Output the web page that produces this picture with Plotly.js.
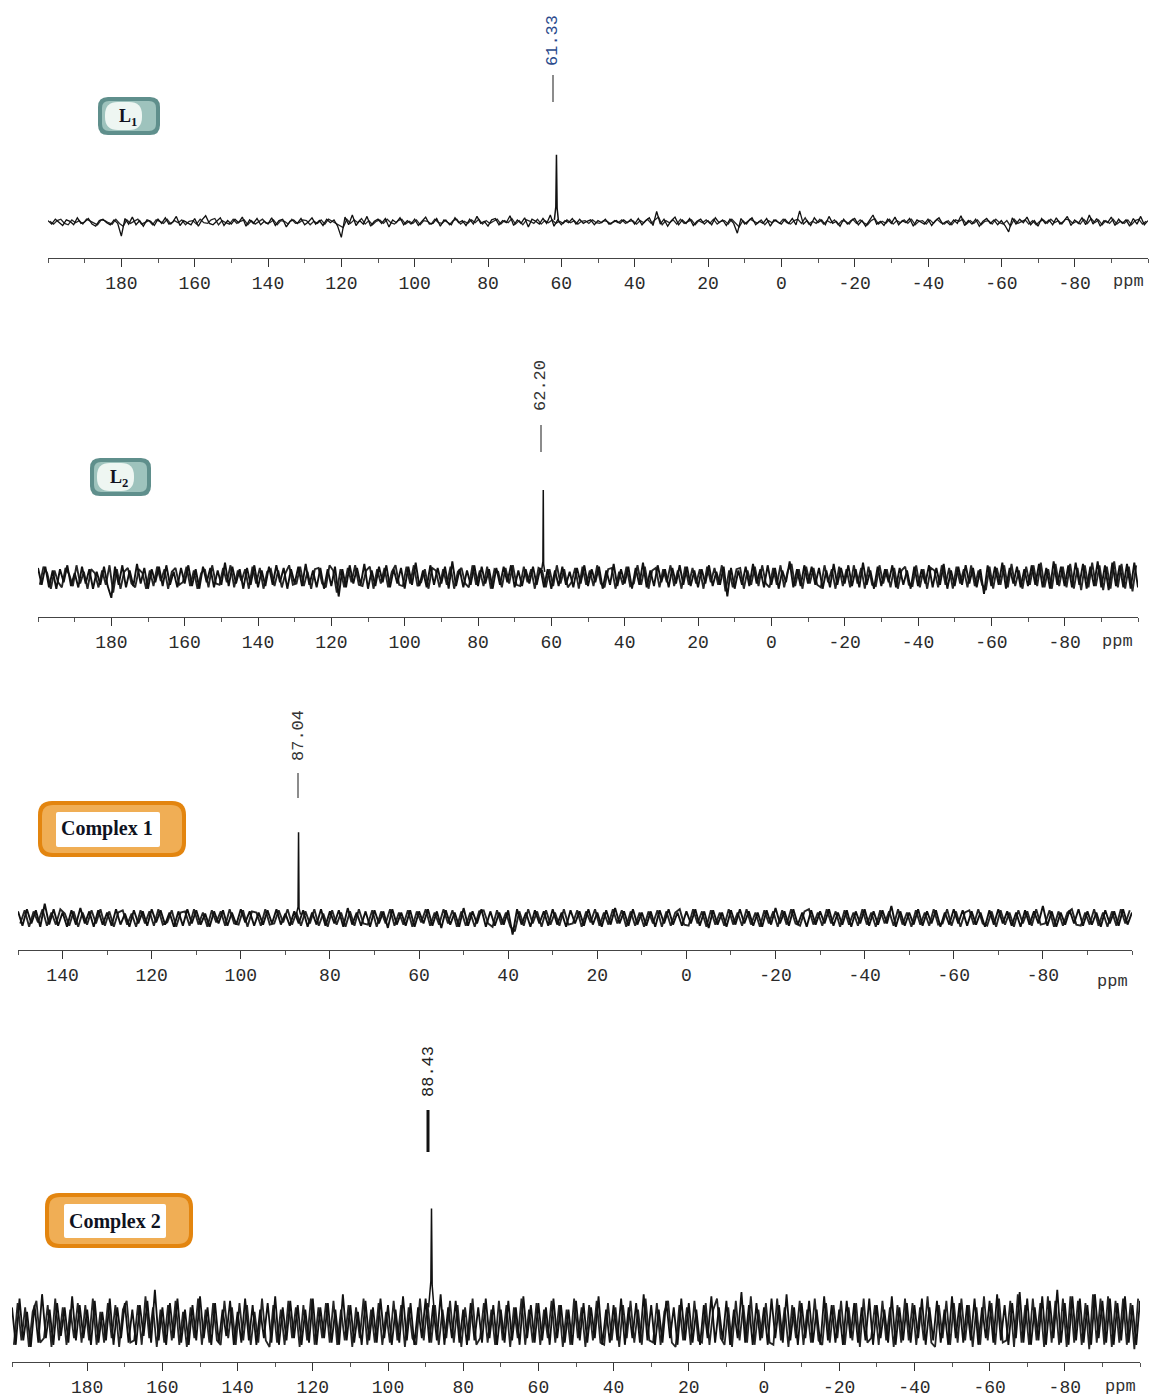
<!DOCTYPE html>
<html><head><meta charset="utf-8">
<script src="https://cdn.plot.ly/plotly-3.0.1.min.js"></script>
<style>html,body{margin:0;padding:0;background:#fff}#chart{width:1149px;height:1398px}</style>
</head><body><div id="chart"></div>
<script>
const W = 1149, H = 1398;

// ---- data ----
const spectrumNames = ["L1", "L2", "Complex 1", "Complex 2"];
const noiseStartPpm = [200, 200, 150, 200]; // scan A sampled every 1 ppm downward; scan B offset by 0.5 ppm
const noiseL1 = [
2,-3,4,-1,-5,3,1,-4,6,-2,0,5,-3,-6,2,4,-1,-4,3,-2,
-20,5,-3,7,-4,2,-6,3,1,-5,4,-2,6,-3,0,8,-5,2,-1,-4,
5,-6,3,9,-2,-4,1,6,-5,2,-3,4,-1,7,-6,3,-2,5,-4,1,
-3,6,-5,2,4,-7,1,3,-2,5,-4,0,6,-3,2,-5,4,-1,3,-6,
-22,7,-4,10,-5,2,-3,8,-6,1,4,-2,5,-7,3,-1,6,-4,2,-3,
4,-5,1,7,-3,-2,5,-6,3,0,-4,6,-1,2,-5,4,-3,8,-2,1,
-6,3,5,-4,2,-1,9,-5,3,-2,6,-7,4,1,-3,5,-2,10,-6,3,
-4,2,-1,5,-3,4,-2,1,3,-4,2,-1,4,-3,0,2,-2,3,-1,4,
-3,5,-4,2,6,-5,15,-3,4,-6,2,7,-4,3,-2,5,-5,1,4,-3,
2,-4,6,-1,3,-5,4,-2,-16,5,-3,2,6,-4,1,-2,5,-6,3,0,
-3,4,-2,5,-4,16,-3,2,-5,6,-1,3,-4,8,-2,1,-6,4,-3,2,
5,-4,2,-6,3,10,-3,1,-5,4,-2,7,-4,2,-1,5,-6,3,0,-3,
4,-5,2,6,-3,1,-4,3,-2,9,-5,2,-3,4,-6,1,5,-2,3,-4,
2,-5,-14,6,-3,4,-1,7,-4,2,-6,5,-2,3,-4,6,-3,1,8,-5,
3,-2,6,-4,10,-3,5,-6,2,-1,7,-5,4,-2,3,-6,5,-3,8,-4,2];
const noiseL1b = [
1,-3,2,4,-2,-4,3,-1,2,-3,4,1,-2,-4,3,2,-1,-3,4,-2,
-6,3,-2,1,4,-3,-1,2,-4,3,1,-2,4,-3,2,-1,3,-4,1,2,
-3,4,-1,-2,3,5,-4,2,-1,-3,4,-2,1,3,-4,2,-3,1,4,-2,
-1,3,-4,2,1,-3,4,-2,-1,3,2,-4,1,-2,3,-3,4,1,-2,-4,
-8,4,-2,3,-1,5,-3,2,-4,1,3,-2,4,-1,-3,2,4,-3,1,-2,
3,-4,2,1,-3,4,-1,-2,3,-4,2,4,-3,1,-2,3,-1,4,-3,2,
-2,1,4,-3,2,-1,5,-3,2,-4,3,1,-2,4,-3,2,-1,3,-2,1,
-2,3,-1,2,-3,1,2,-2,3,-1,-2,2,1,-3,2,-1,3,-2,1,2,
-3,2,-1,4,-2,3,7,-4,2,-1,3,-3,4,-2,1,3,-4,2,-1,3,
-2,4,-3,1,2,-3,4,-1,-7,2,-3,4,1,-2,3,-4,2,-1,3,-2,
4,-1,-3,2,4,-2,6,-3,1,-2,4,-3,2,-1,3,-4,2,1,-3,4,
-2,3,-1,-4,2,5,-3,1,-2,4,-3,2,-1,3,-2,4,-4,1,2,-3,
3,-2,4,-1,-3,2,-4,3,1,4,-3,2,-2,3,-4,1,2,-3,4,-1,
-3,2,-6,4,-2,1,3,-3,2,-4,1,3,-2,4,-1,2,-3,4,3,-2,
1,-3,4,-2,5,-1,3,-4,2,-2,4,-3,1,-2,3,-4,2,4,-3,1];
const noiseL2 = [
7,-6,8,-8,5,-9,6,-4,9,-7,3,-8,8,-5,6,-9,4,-6,8,-7,
-16,8,-6,9,-8,5,-7,10,-5,7,-9,6,-4,8,-7,9,-6,4,-8,7,
-5,9,-7,6,-9,8,-4,7,-8,5,-6,11,-7,8,-5,6,-9,7,-6,9,
-8,5,-7,8,-6,9,-4,7,-9,6,-5,8,-7,10,-6,5,-8,7,-9,6,
-7,8,-15,6,-8,9,-5,7,-6,10,-9,5,-7,8,-4,9,-8,6,-5,7,
-9,8,-6,11,-7,5,-8,9,-6,7,-5,8,-9,12,-7,6,-8,5,-6,9,
-7,8,-5,6,-9,7,-6,8,-4,9,-8,5,-7,6,-5,8,-6,7,-8,6,
-9,5,-7,8,-6,4,-8,7,-5,9,-7,6,-4,8,-9,5,-6,10,-7,6,
-5,8,-9,7,-6,11,-8,5,-7,9,-4,6,-8,7,-5,9,-6,8,-7,5,
-8,6,-5,9,-7,4,-6,8,-15,7,-9,5,-6,8,-7,10,-5,6,-8,9,
-6,7,-9,5,-4,12,-8,6,-7,9,-5,8,-6,7,-9,5,-8,10,-6,7,
-5,9,-7,6,-8,11,-6,5,-9,8,-7,6,-4,9,-8,7,-6,5,-9,8,
-7,6,-5,9,-8,7,-6,10,-9,5,-7,8,-6,9,-5,7,-8,6,-13,9,
-7,8,-6,11,-9,7,-5,8,-8,6,-7,9,-6,10,-8,7,-9,12,-6,8,
-7,9,-8,11,-6,10,-9,8,-7,12,-8,9,-10,11,-7,9,-8,10,-9,11,-8];
const noiseL2b = [
-6,8,3,-9,5,-4,-8,7,2,-7,9,-5,4,-9,6,3,-8,5,-6,9,
-12,6,-9,4,7,-5,-8,6,3,-9,5,-7,8,-3,6,-9,4,7,-6,-4,
8,-7,5,-9,3,6,-8,9,-5,-6,7,-4,9,-8,5,-3,6,-9,8,-5,
7,-9,4,6,-7,5,-8,3,9,-6,-5,8,-7,4,-9,6,7,-5,-8,9,
5,-12,6,-8,7,-4,9,-6,-7,5,8,-9,6,-5,7,-8,4,9,-6,-7,
8,-5,9,-7,-4,6,-9,7,5,-8,6,-6,8,-9,4,7,-5,-8,9,-6,
5,-7,8,-9,6,4,-8,7,-5,9,-6,-7,8,-4,6,-9,7,5,-8,6,
-7,9,-5,6,-8,-4,7,-9,8,-6,5,-7,9,-5,-8,6,7,-9,4,-6,
8,-7,-5,9,-6,8,-9,5,7,-8,6,-4,9,-7,5,-9,8,-6,7,-5,
6,-9,8,-4,7,-6,9,-11,5,-8,6,7,-9,5,-6,8,-7,9,-5,-8,
7,-6,9,-8,5,10,-7,6,-9,8,-5,7,-6,-8,9,-4,6,-9,8,-7,
6,-8,9,-5,7,-9,8,-6,-7,9,-5,6,-8,7,-9,5,8,-6,-7,9,
-8,6,-9,7,5,-8,9,-6,7,-9,8,-5,6,-8,9,-7,5,-6,-10,8,
-9,7,-6,9,-8,10,-7,5,-9,8,-6,9,-7,11,-8,6,-9,10,-7,8,
-8,10,-9,7,-10,9,-8,11,-7,9,-10,8,-9,12,-8,10,-9,8,-11,9];
const noiseC1 = [
6,-7,8,-5,7,-8,13,-6,8,-7,5,-8,7,-6,9,-5,6,-8,7,-6,
5,-7,8,-6,4,-8,7,-5,6,-7,8,-4,7,-6,5,-8,6,-7,8,-5,
7,-6,4,-8,6,-5,7,-7,5,-6,8,-4,6,-7,5,-6,7,-5,8,-6,
4,-7,6,-5,7,-8,5,-6,8,-7,6,-5,7,-8,9,-6,5,-7,6,-8,
7,-5,6,-9,8,-6,5,-7,7,-8,6,-5,8,-7,6,-9,7,-6,5,-8,
9,-7,6,-5,8,-8,6,-7,5,-6,7,-15,8,-6,5,-8,7,-5,6,-7,
8,-6,5,-8,7,-5,6,-7,8,-6,5,-8,7,-6,9,-5,6,-7,8,-6,
5,-7,6,-8,7,-5,8,-6,5,-7,6,-5,8,-7,6,-9,7,-6,5,-8,
7,-6,8,-5,6,-7,5,-8,7,-6,9,-5,6,-7,8,-6,5,-8,7,-6,
6,-5,8,-7,5,-6,7,-8,6,-5,8,-7,6,-6,7,-5,11,-8,6,-7,
5,-6,8,-7,6,-5,7,-8,5,-6,8,-5,7,-7,6,-6,5,-8,7,-6,
8,-5,6,-7,5,-8,7,-6,6,-5,11,-7,6,-8,5,-6,7,-5,8,-7,
6,-6,5,-8,7,-5,6,-7,8,-6,5];
const noiseC1b = [
-5,7,-8,6,-4,8,-7,5,-6,8,4,-7,6,-8,5,-6,7,-5,8,-7,
6,-8,5,7,-6,4,-8,7,-5,6,-7,8,-6,-4,7,-8,5,6,-7,8,
-6,5,-8,7,-4,6,-7,8,-5,-6,7,-8,6,5,-7,8,-6,-5,7,-4,
8,-6,5,-7,6,-5,8,-7,4,-8,7,-6,5,-8,6,-7,8,-5,-6,7,
-8,6,-5,8,-7,5,-6,7,-8,6,-4,8,-7,5,-6,8,-5,7,-8,6,
-7,5,-8,6,7,-5,-8,7,-6,5,-8,-12,6,-7,8,-5,6,-8,7,-6,
5,-7,8,-6,-5,7,-8,6,-4,8,-7,5,-6,8,-5,7,-8,6,-7,5,
-8,6,-5,7,-8,6,-7,5,8,-6,-7,8,-5,6,-8,7,-6,5,-7,8,
-6,5,-7,8,-6,5,-8,7,-5,6,-8,7,-6,8,-5,-7,6,8,-6,5,
-7,8,-5,6,-8,7,-6,5,-7,8,-6,5,-8,7,-5,6,-7,8,-6,5,
-8,7,-6,5,-7,8,-6,-5,8,-7,6,-8,5,7,-6,8,-5,-7,6,-8,
7,-6,5,-8,7,-5,6,-7,8,-6,-5,7,-8,6,-7,5,8,-6,-7,5,
-6,8,-7,5,-8,6,-7,8,-5,7];
const noiseC2 = [
8,-9,12,-7,6,-10,9,-8,14,-6,7,-9,10,-5,8,-8,13,-7,9,-6,
7,-9,11,-8,6,-7,12,-9,8,-6,10,-8,7,-9,9,-5,11,-8,16,-7,
8,-9,10,-6,12,-8,7,-9,9,-7,13,-6,8,-9,10,-8,7,-5,11,-9,
6,-8,12,-7,9,-9,7,-6,10,-8,13,-9,8,-7,11,-6,9,-9,7,-8,
12,-9,8,-6,10,-8,7,-9,14,-7,9,-8,6,-9,11,-7,8,-8,12,-6,
9,-9,7,-8,13,-7,10,-9,8,-6,12,-8,9,-7,14,-9,8,-6,11,-8,
7,-9,10,-7,8,-8,12,-6,9,-9,7,-8,11,-7,8,-9,13,-6,9,-8,
10,-7,8,-9,12,-6,9,-8,7,-9,11,-7,10,-8,8,-6,13,-9,7,-8,
9,-7,12,-9,8,-6,10,-8,14,-7,9,-9,7,-8,11,-6,8,-9,12,-7,
10,-8,7,-9,9,-6,13,-8,8,-7,11,-9,7,-6,15,-8,9,-9,10,-7,
8,-9,12,-6,9,-8,14,-7,8,-9,10,-6,11,-8,7,-9,13,-7,9,-8,
7,-9,11,-6,10,-8,8,-7,12,-9,9,-6,7,-8,13,-9,8,-7,10,-8,
9,-6,12,-9,8,-7,11,-8,7,-9,13,-6,10,-8,9,-7,12,-9,8,-6,
11,-8,14,-7,9,-9,10,-6,15,-8,12,-9,8,-7,13,-9,11,-6,16,-8,
10,-9,13,-7,12,-8,9,-9,14,-6,11,-8,12,-9,10,-7,13,-8,9,-9,11];
const noiseC2b = [
-9,10,-7,8,-10,6,11,-8,-6,9,-10,12,-7,8,-9,7,-6,10,-8,9,
-7,12,-9,6,-8,10,-6,9,-10,7,11,-8,-7,9,-9,13,-6,8,-10,7,
-8,9,-7,11,-9,6,-10,8,-6,12,-9,7,-8,10,-7,-9,11,-6,8,-9,
10,-7,9,-9,6,-8,12,-7,-10,9,-8,7,-9,11,-6,8,-10,9,-7,12,
-9,8,-6,10,-8,11,-9,7,-7,9,-10,8,-6,12,-9,7,-8,10,-9,6,
-8,11,-7,9,-10,8,-6,-9,12,-7,10,-8,9,-9,7,-6,11,-8,9,-10,
8,-7,12,-9,-6,10,-8,7,-9,11,-7,9,-10,8,-6,12,-9,7,-8,10,
-9,7,-6,11,-8,9,-10,7,-9,12,-6,8,-10,9,-7,11,-8,-9,10,-7,
8,-10,9,-6,11,-8,7,-9,12,-7,-8,10,-9,6,11,-8,-10,9,-7,8,
-9,11,-7,-8,10,-9,7,12,-6,-9,8,-10,11,-7,9,-8,13,-9,7,-6,
10,-8,-9,12,-7,8,-10,9,-6,11,-9,7,-8,12,-7,-9,10,-8,9,-6,
11,-9,8,-7,10,-10,12,-8,-6,9,-9,11,-7,8,-10,9,-8,12,-7,10,
-9,8,-7,13,-8,-10,9,-6,11,-9,10,-8,12,-7,9,-10,8,-9,13,-7,
10,-9,12,-8,-7,11,-10,14,-8,9,-9,12,-7,10,-10,13,-8,11,-9,12,
-10,13,-8,11,-9,10,-11,14,-8,12,-9,13,-10,11,-8,12,-9,10,-11,12];
const noiseSetsA = [noiseL1, noiseL2, noiseC1, noiseC2];
const noiseSetsB = [noiseL1b, noiseL2b, noiseC1b, noiseC2b];

// peak shapes (ppm, intensity)
const peakX_L1 = [61.9, 61.5, 61.33, 61.15, 60.8];
const peakY_L1 = [3, 22, 96, 20, 2];
const peakX_L2 = [62.6, 62.3, 62.20, 62.1, 61.8];
const peakY_L2 = [6, 12, 67, 10, 4];
const peakX_C1 = [87.5, 87.15, 87.04, 86.93, 86.6];
const peakY_C1 = [4, 10, 78, 9, 3];
const peakX_C2 = [89.2, 88.6, 88.43, 88.25, 87.7];
const peakY_C2 = [8, 20, 53, 18, 6];
const peakXs = [peakX_L1, peakX_L2, peakX_C1, peakX_C2];
const peakYs = [peakY_L1, peakY_L2, peakY_C1, peakY_C2];
const peakLabels = ["61.33", "62.20", "87.04", "88.43"];

const tickVals200 = [180,160,140,120,100,80,60,40,20,0,-20,-40,-60,-80];
const tickVals150 = [140,120,100,80,60,40,20,0,-20,-40,-60,-80];
const tickSets = [tickVals200, tickVals200, tickVals150, tickVals200];

// ---- layout geometry (pixels) ----
const panels = [
  {x0:48, x1:1148, axis:258, base:222, top:0,   k:0.7, lw:1.3, range:[200,-100], label:{x:553,y:41,l0:75,l1:102,c:'#2a4a8c',w:1.5}, ppm:{x:1128,y:282}},
  {x0:38, x1:1138, axis:617, base:577, top:300, k:1.3, lw:1.9, range:[200,-100], label:{x:541,y:386,l0:425,l1:452,c:'#333',w:1.5}, ppm:{x:1117,y:642}},
  {x0:18, x1:1132, axis:950, base:918, top:690, k:1.1, lw:1.9, range:[150,-100], label:{x:298,y:736,l0:773,l1:798,c:'#333',w:1.5}, ppm:{x:1112,y:982}},
  {x0:12, x1:1140, axis:1362,base:1325,top:1030,k:2.2, lw:1.8, range:[200,-100], label:{x:428,y:1072,l0:1110,l1:1152,c:'#222',w:3}, ppm:{x:1120,y:1386}}
];
const px = v => v / W, py = v => 1 - v / H;

const traces = [];
const layout = {
  width: W, height: H, margin: {l:0, r:0, t:0, b:0},
  paper_bgcolor: '#fff', plot_bgcolor: 'rgba(0,0,0,0)',
  showlegend: false, annotations: [], shapes: []
};

panels.forEach((p, n) => {
  const id = n === 0 ? '' : String(n + 1);
  const a = noiseSetsA[n], b = noiseSetsB[n];
  traces.push({x: b.map((_, i) => noiseStartPpm[n] - 0.5 - i), y: b, type: 'scatter', mode: 'lines',
    xaxis: 'x' + id, yaxis: 'y' + id, line: {color: '#262626', width: p.lw}, hoverinfo: 'skip', name: spectrumNames[n] + ' scan B'});
  traces.push({x: a.map((_, i) => noiseStartPpm[n] - i), y: a, type: 'scatter', mode: 'lines',
    xaxis: 'x' + id, yaxis: 'y' + id, line: {color: '#111', width: p.lw}, hoverinfo: 'skip', name: spectrumNames[n]});
  traces.push({x: peakXs[n], y: peakYs[n], type: 'scatter', mode: 'lines', xaxis: 'x' + id, yaxis: 'y' + id,
    line: {color: '#111', width: 1.5}, hoverinfo: 'skip', name: spectrumNames[n] + ' peak'});
  layout['xaxis' + id] = {
    domain: [px(p.x0), px(p.x1)], range: p.range, autorange: false, anchor: 'y' + id,
    showline: true, linecolor: '#444', linewidth: 1, mirror: false,
    ticks: 'outside', ticklen: 8, tickwidth: 1, tickcolor: '#333',
    tickmode: 'array', tickvals: tickSets[n], ticktext: tickSets[n].map(String),
    minor: {dtick: 10, tick0: 0, ticks: 'outside', ticklen: 4, tickcolor: '#555', showgrid: false},
    tickfont: {family: 'Liberation Mono, DejaVu Sans Mono, monospace', size: 18, color: '#2a2a2a'},
    ticklabelstandoff: 0,
    showgrid: false, zeroline: false, fixedrange: true
  };
  layout['yaxis' + id] = {
    domain: [py(p.axis), py(p.top)], anchor: 'x' + id,
    range: [-(p.axis - p.base) / p.k, (p.base - p.top) / p.k], autorange: false,
    visible: false, showgrid: false, zeroline: false, fixedrange: true
  };
  layout.annotations.push({xref: 'paper', yref: 'paper', x: px(p.label.x), y: py(p.label.y),
    text: peakLabels[n], textangle: -90, showarrow: false, xanchor: 'center', yanchor: 'middle',
    font: {family: 'Liberation Mono, DejaVu Sans Mono, monospace', size: 17, color: p.label.c}});
  layout.shapes.push({type: 'line', xref: 'paper', yref: 'paper',
    x0: px(p.label.x), x1: px(p.label.x), y0: py(p.label.l0), y1: py(p.label.l1),
    line: {color: n === 3 ? '#111' : '#666', width: p.label.w}});
  layout.annotations.push({xref: 'paper', yref: 'paper', x: px(p.ppm.x), y: py(p.ppm.y),
    text: 'ppm', showarrow: false, xanchor: 'center', yanchor: 'middle',
    font: {family: 'Liberation Mono, DejaVu Sans Mono, monospace', size: 17, color: '#333'}});
});

// ---- label boxes ----
function rr(x0, y0, x1, y1, r) {
  const P = (x, y) => px(x) + ',' + py(y);
  return 'M' + P(x0 + r, y0) + ' L' + P(x1 - r, y0) + ' Q' + P(x1, y0) + ' ' + P(x1, y0 + r) +
    ' L' + P(x1, y1 - r) + ' Q' + P(x1, y1) + ' ' + P(x1 - r, y1) +
    ' L' + P(x0 + r, y1) + ' Q' + P(x0, y1) + ' ' + P(x0, y1 - r) +
    ' L' + P(x0, y0 + r) + ' Q' + P(x0, y0) + ' ' + P(x0 + r, y0) + ' Z';
}
function addBox(b) {
  layout.shapes.push({type: 'path', xref: 'paper', yref: 'paper', path: rr(b.x0, b.y0, b.x1, b.y1, b.r),
    fillcolor: b.c0, line: {width: 0}, layer: 'above'});
  layout.shapes.push({type: 'path', xref: 'paper', yref: 'paper', path: rr(b.x0 + 4, b.y0 + 4, b.x1 - 4, b.y1 - 4, b.r - 3),
    fillcolor: b.c1, line: {width: 0}, layer: 'above'});
  layout.shapes.push({type: 'path', xref: 'paper', yref: 'paper', path: rr(b.ix0, b.iy0, b.ix1, b.iy1, b.ir),
    fillcolor: b.c2, line: {width: 0}, layer: 'above'});
  layout.annotations.push({xref: 'paper', yref: 'paper', x: px(b.tx), y: py(b.ty), text: b.text,
    showarrow: false, xanchor: 'center', yanchor: 'middle',
    font: {family: 'Liberation Serif, Times New Roman, serif', size: b.fs, color: '#10131f'}});
}
addBox({x0:98, y0:97, x1:160, y1:135, r:10, c0:'#5f8f8c', c1:'#9ec3bd', c2:'#eef6f2', ix0:105, iy0:102, ix1:142, iy1:130, ir:13,
  tx:128, ty:117, text:'<b>L<sub>1</sub></b>', fs:18});
addBox({x0:90, y0:458, x1:151, y1:496, r:10, c0:'#5f8f8c', c1:'#9ec3bd', c2:'#eef6f2', ix0:97, iy0:463, ix1:134, iy1:491, ir:13,
  tx:119, ty:478, text:'<b>L<sub>2</sub></b>', fs:18});
addBox({x0:38, y0:801, x1:186, y1:857, r:14, c0:'#e3850f', c1:'#f0ae55', c2:'#ffffff', ix0:56, iy0:812, ix1:160, iy1:847, ir:2,
  tx:107, ty:829, text:'<b>Complex 1</b>', fs:20});
addBox({x0:45, y0:1193, x1:193, y1:1248, r:14, c0:'#e3850f', c1:'#f0ae55', c2:'#ffffff', ix0:64, iy0:1204, ix1:166, iy1:1238, ir:2,
  tx:115, ty:1221, text:'<b>Complex 2</b>', fs:20});

Plotly.newPlot('chart', traces, layout, {staticPlot: true, displayModeBar: false});
</script></body></html>
